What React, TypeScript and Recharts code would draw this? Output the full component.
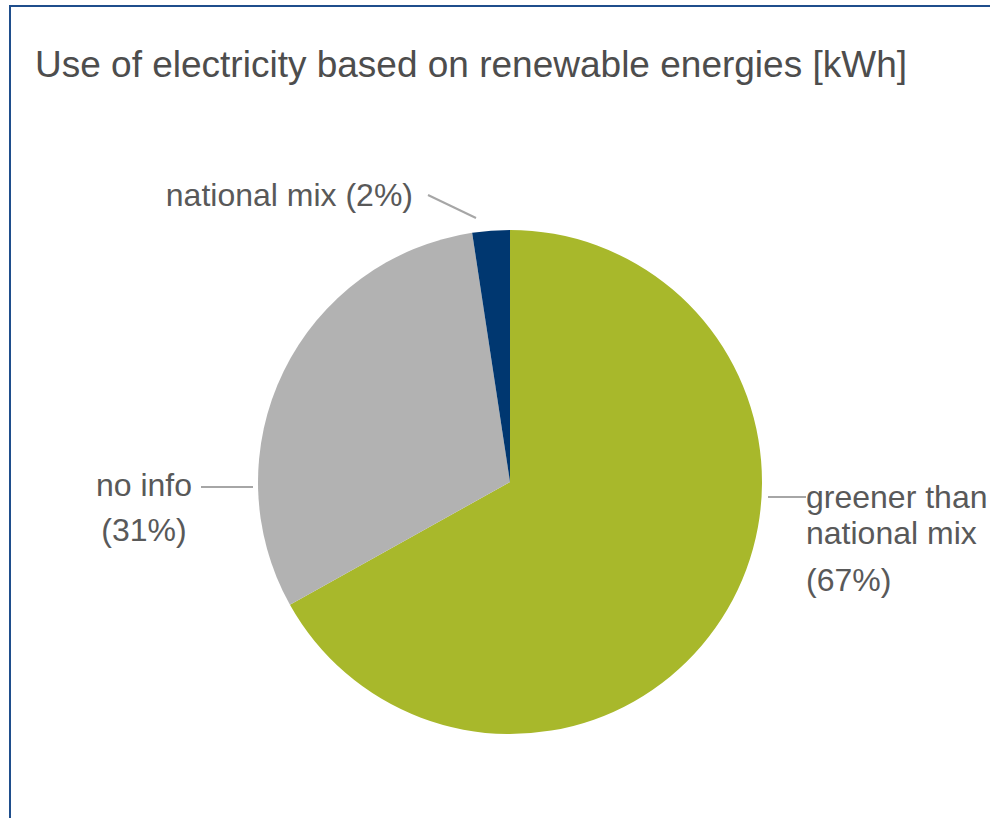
import { Cell, Pie, PieChart } from "recharts";

const categories = ["greener than national mix", "no info", "national mix"];
const shares = [66.9, 30.7, 2.4];
const labelLines = [["greener than", "national mix", "(67%)"], ["no info", "(31%)"], ["national mix (2%)"]];
const colors = ["#a8b82b", "#b2b2b2", "#003770"];

const data = categories.map((name, i) => ({ name, value: shares[i] }));

const textColor = "#595959";
const leaderColor = "#a6a6a6";
const fontFamily = "'Liberation Sans', Arial, sans-serif";
const labelSize = 32;

const renderLabel = (props: any) => {
  const { cx, cy, outerRadius: r, index } = props;
  const lines = labelLines[index];
  if (index === 0) {
    const ys = [15, 51, 98];
    return (
      <g>
        <line x1={cx + r + 6} y1={cy + 15} x2={cx + r + 44} y2={cy + 15} stroke={leaderColor} strokeWidth={2} />
        {lines.map((t, i) => (
          <text key={i} x={cx + r + 44} y={cy + ys[i]} dominantBaseline="central" fill={textColor} fontSize={labelSize} fontFamily={fontFamily}>
            {t}
          </text>
        ))}
      </g>
    );
  }
  if (index === 1) {
    const ys = [3, 48];
    return (
      <g>
        <line x1={cx - r - 57} y1={cy + 5} x2={cx - r - 5} y2={cy + 5} stroke={leaderColor} strokeWidth={2} />
        {lines.map((t, i) => (
          <text key={i} x={cx - r - 114} y={cy + ys[i]} textAnchor="middle" dominantBaseline="central" fill={textColor} fontSize={labelSize} fontFamily={fontFamily}>
            {t}
          </text>
        ))}
      </g>
    );
  }
  return (
    <g>
      <line x1={cx - 82} y1={cy - r - 35} x2={cx - 34} y2={cy - r - 12} stroke={leaderColor} strokeWidth={2} />
      <text x={cx - 97} y={cy - r - 35} textAnchor="end" dominantBaseline="central" fill={textColor} fontSize={labelSize} fontFamily={fontFamily}>
        {lines[0]}
      </text>
    </g>
  );
};

export default function App() {
  return (
    <div style={{ position: "absolute", left: 0, top: 0, width: 990, height: 818, overflow: "hidden", background: "#fff" }}>
      <div
        style={{
          position: "absolute",
          left: 9,
          top: 5,
          width: 1000,
          height: 840,
          borderTop: "2px solid #1f4e8c",
          borderLeft: "2px solid #1f4e8c",
        }}
      />
      <div
        style={{
          position: "absolute",
          left: 35,
          top: 40,
          fontFamily,
          fontSize: 37,
          color: "#4d4d4d",
          whiteSpace: "nowrap",
          lineHeight: "50px",
        }}
      >
        Use of electricity based on renewable energies [kWh]
      </div>
      <div style={{ position: "absolute", left: 0, top: 0 }}>
        <PieChart width={990} height={818}>
          <Pie
            data={data}
            dataKey="value"
            nameKey="name"
            cx={505}
            cy={477}
            outerRadius={252}
            startAngle={90}
            endAngle={-270}
            stroke="none"
            label={renderLabel}
            labelLine={false}
            isAnimationActive={false}
          >
            {data.map((d, i) => (
              <Cell key={d.name} fill={colors[i]} />
            ))}
          </Pie>
        </PieChart>
      </div>
    </div>
  );
}
